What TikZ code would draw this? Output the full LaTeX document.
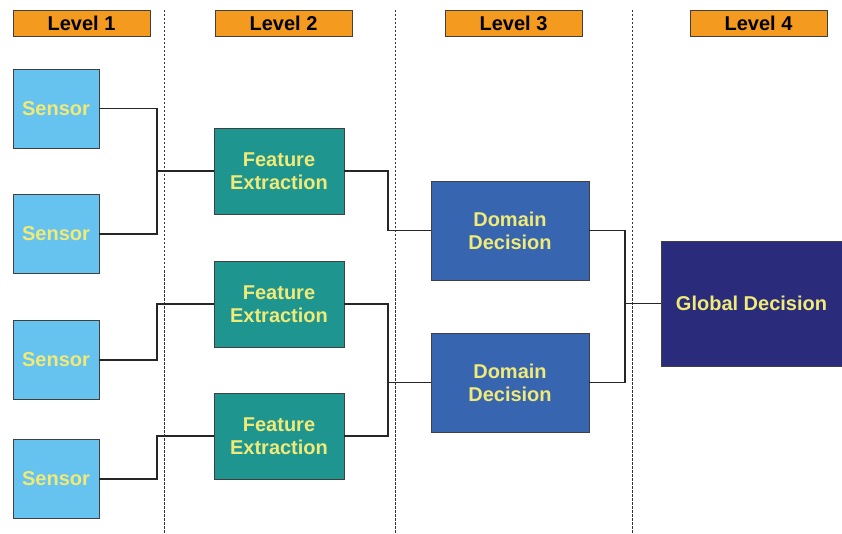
\documentclass[tikz,border=0pt]{standalone}
\usepackage{fontspec}
\setmainfont{Liberation Sans}
\begin{document}
\begin{tikzpicture}[x=1pt,y=-1pt,
  base/.style={draw=black!75,line width=0.9pt,inner sep=0pt,align=center,
    font=\fontsize{20}{23}\selectfont\bfseries,text=textyellow},
  levelbox/.style={base,fill=lvorange,text=black,minimum width=137pt,minimum height=26pt},
  sensorbox/.style={base,fill=sensorblue,minimum width=86pt,minimum height=79pt},
  featbox/.style={base,fill=featteal,minimum width=130pt,minimum height=86pt},
  dombox/.style={base,fill=domblue,minimum width=158pt,minimum height=99pt},
  globbox/.style={base,fill=globnavy,minimum width=181pt,minimum height=125pt},
  conn/.style={draw=black!85,line width=1.1pt},
  sep/.style={draw=black!80,line width=1pt,dash pattern=on 2.5pt off 1.5pt}]
\definecolor{lvorange}{HTML}{F39A1F}
\definecolor{sensorblue}{HTML}{66C2EE}
\definecolor{featteal}{HTML}{1F9590}
\definecolor{domblue}{HTML}{3765B0}
\definecolor{globnavy}{HTML}{2A2B7B}
\definecolor{textyellow}{HTML}{F0EA78}
\useasboundingbox (0,0) rectangle (842,534);
\fill[white] (0,0) rectangle (842,534);
% separators
\coordinate (d1t) at (164,10); \coordinate (d1b) at (164,534);
\coordinate (d2t) at (395,10); \coordinate (d2b) at (395,534);
\coordinate (d3t) at (632,10); \coordinate (d3b) at (632,534);
\draw[sep] (d1t) -- (d1b);
\draw[sep] (d2t) -- (d2b);
\draw[sep] (d3t) -- (d3b);
% level headers
\node[levelbox] (l1) at (81.5,23) {Level 1};
\node[levelbox] (l2) at (283.5,23) {Level 2};
\node[levelbox] (l3) at (513.5,23) {Level 3};
\node[levelbox] (l4) at (758.5,23) {Level 4};
% sensors
\node[sensorbox] (s1) at (56,108.5) {Sensor};
\node[sensorbox] (s2) at (56,234) {Sensor};
\node[sensorbox] (s3) at (56,360) {Sensor};
\node[sensorbox] (s4) at (56,479) {Sensor};
% feature extraction
\node[featbox] (f1) at (279,171) {Feature\\Extraction};
\node[featbox] (f2) at (279,304) {Feature\\Extraction};
\node[featbox] (f3) at (279,436) {Feature\\Extraction};
% domain decision
\node[dombox] (d1) at (510,230.5) {Domain\\Decision};
\node[dombox] (d2) at (510,382.5) {Domain\\Decision};
% global
\node[globbox] (g) at (751.5,303.5) {Global Decision};
% junctions
\coordinate (j1) at (157,171);
\coordinate (j2) at (157,304);
\coordinate (j3) at (157,436);
\coordinate (k1) at (388,230.5);
\coordinate (k2) at (388,382.5);
\coordinate (m1) at (625,303.5);
% connectors
\draw[conn] (s1.east) -| (j1) -- (f1.west);
\draw[conn] (s2.east) -| (j1);
\draw[conn] (s3.east) -| (j2) -- (f2.west);
\draw[conn] (s4.east) -| (j3) -- (f3.west);
\draw[conn] (f1.east) -| (k1) -- (d1.west);
\draw[conn] (f2.east) -| (k2) -- (d2.west);
\draw[conn] (f3.east) -| (k2);
\draw[conn] (d1.east) -| (m1) -- (g.west);
\draw[conn] (d2.east) -| (m1);
\end{tikzpicture}
\end{document}
